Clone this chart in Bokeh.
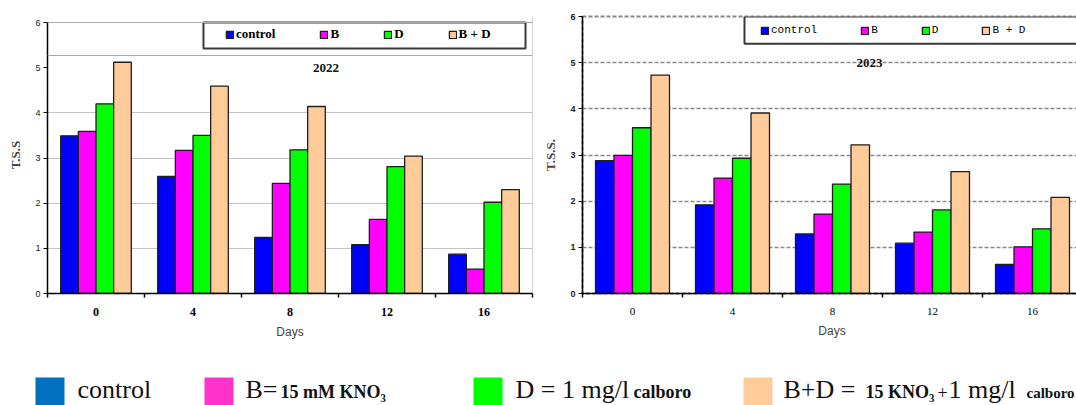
from bokeh.plotting import figure
from bokeh.models import (Range1d, FixedTicker, Span, BoxAnnotation, Label, Legend,
                          LegendItem, ColumnDataSource)
from bokeh.transform import dodge
from bokeh.layouts import column, row
from bokeh.embed import file_html
from bokeh.resources import INLINE
from bokeh.core.properties import value

# ---------------- data ----------------
days = ["0", "4", "8", "12", "16"]
series_names = ["control", "B", "D", "B + D"]
y_ticks = [0, 1, 2, 3, 4, 5, 6]

tss2022_control = [3.49, 2.59, 1.24, 1.08, 0.87]
tss2022_B = [3.59, 3.17, 2.44, 1.64, 0.54]
tss2022_D = [4.20, 3.50, 3.18, 2.81, 2.02]
tss2022_BD = [5.12, 4.59, 4.14, 3.04, 2.30]

tss2023_control = [2.88, 1.92, 1.29, 1.09, 0.63]
tss2023_B = [2.99, 2.50, 1.72, 1.33, 1.01]
tss2023_D = [3.59, 2.93, 2.37, 1.81, 1.40]
tss2023_BD = [4.73, 3.91, 3.22, 2.64, 2.08]

bar_colors = ["#0000FF", "#FF00FF", "#00FF00", "#FFCC99"]

key_colors = ["#0070C0", "#FF33CC", "#00FF00", "#FFCC99"]
# bottom key: text segments (text, size in px, style)
key_segments = [
    [("control", 26, "normal")],
    [("B=", 26, "normal"), ("15 mM KNO\u2083", 18, "bold")],
    [("D = 1 mg/l", 26, "normal"), ("calboro", 18, "bold")],
    [("B+D =", 26, "normal"), ("15 KNO\u2083", 18, "bold"), ("+", 18, "normal"),
     ("1 mg/l", 26, "normal"), ("calboro", 15, "bold")],
]

SERIF = "Liberation Serif"
SERIF_STACK = "Liberation Serif, Times New Roman, serif"
SANS = "Liberation Sans"
MONO = "Liberation Mono"

CHART_H = 345
FRAME_TOP = 16
FRAME_H = 277


def make_chart(year, vals, frame_w, x_end, y_end, border_left, border_right, bar_w,
               grid_ticks, grid_color, grid_dash, grid_width,
               tick_font, tick_size, tick_style, ytick_style, leg_font, leg_size, leg_style,
               leg_loc, leg_spacing, box, ylabel):
    p = figure(frame_width=frame_w, frame_height=FRAME_H,
               x_range=Range1d(-0.5, x_end), y_range=Range1d(0, y_end),
               toolbar_location=None, output_backend="svg",
               min_border_left=border_left, min_border_right=border_right,
               min_border_top=FRAME_TOP,
               min_border_bottom=CHART_H - FRAME_TOP - FRAME_H)
    p.background_fill_color = "white"
    p.border_fill_color = "white"
    p.xgrid.visible = False
    p.ygrid.ticker = FixedTicker(ticks=grid_ticks)
    p.ygrid.grid_line_color = grid_color
    p.ygrid.grid_line_dash = grid_dash
    p.ygrid.grid_line_width = grid_width

    src = ColumnDataSource(dict(idx=list(range(len(days))), control=vals[0], B=vals[1],
                                D=vals[2], BD=vals[3]))
    keys = ["control", "B", "D", "BD"]
    rends = []
    for k, (key, col) in enumerate(zip(keys, bar_colors)):
        r = p.vbar(x=dodge("idx", (k - 1.5) * bar_w, range=p.x_range), top=key, width=bar_w,
                   bottom=0, source=src, fill_color=col, line_color="#1e1e1e", line_width=1.3)
        rends.append(r)

    xa = p.xaxis[0]
    xa.ticker = FixedTicker(ticks=list(range(len(days))),
                            minor_ticks=[i - 0.5 for i in range(len(days) + 1)])
    xa.major_label_overrides = {i: d for i, d in enumerate(days)}
    xa.major_tick_out = 0
    xa.major_tick_in = 0
    xa.minor_tick_out = 4
    xa.minor_tick_in = 0
    xa.minor_tick_line_color = "black"
    xa.minor_tick_line_width = 1.5
    xa.axis_line_color = "black"
    xa.axis_line_width = 1.5
    xa.major_label_standoff = 10
    xa.major_label_text_font = tick_font
    xa.major_label_text_font_size = tick_size
    xa.major_label_text_font_style = tick_style
    xa.major_label_text_color = "black"
    xa.axis_label = "Days"
    xa.axis_label_text_font = SANS
    xa.axis_label_text_font_size = "12px"
    xa.axis_label_text_font_style = "normal"
    xa.axis_label_standoff = 6

    ya = p.yaxis[0]
    ya.ticker = FixedTicker(ticks=y_ticks)
    ya.bounds = (0, 6)
    ya.major_tick_out = 4
    ya.major_tick_in = 0
    ya.minor_tick_out = 0
    ya.minor_tick_in = 0
    ya.major_tick_line_color = "black"
    ya.axis_line_color = "black"
    ya.axis_line_width = 1.5
    ya.major_label_standoff = 3
    ya.major_label_text_font = SANS
    ya.major_label_text_font_size = "9px"
    ya.major_label_text_font_style = ytick_style
    ya.major_label_text_color = "#222222"
    ya.axis_label = ylabel
    ya.axis_label_text_font = SERIF
    ya.axis_label_text_font_size = "13px"
    ya.axis_label_text_font_style = "bold"
    ya.axis_label_standoff = 9

    p.add_layout(Label(x=2.37, y=5.0, text=year, text_font=SERIF, text_font_style="bold",
                       text_font_size="13px", text_align="center", text_baseline="middle",
                       text_color="#111111"))

    p.add_layout(BoxAnnotation(left=box[0], right=box[1], bottom=box[2], top=box[3],
                               fill_color="white", fill_alpha=1.0, line_color="#3a3a3a",
                               line_width=2, line_alpha=1.0))
    items = [LegendItem(label=n, renderers=[r]) for n, r in zip(series_names, rends)]
    leg = Legend(items=items, orientation="horizontal", location=leg_loc, padding=0, margin=0,
                 spacing=leg_spacing, glyph_width=9, glyph_height=9, label_standoff=2,
                 label_width=0, label_height=12, label_text_font=leg_font,
                 label_text_font_size=leg_size, label_text_font_style=leg_style,
                 label_text_color="black", border_line_alpha=0, background_fill_alpha=0)
    p.add_layout(leg)
    return p


# left chart: frame reaches a little above 6 so both frames share one top edge
p1 = make_chart("2022", [tss2022_control, tss2022_B, tss2022_D, tss2022_BD],
                frame_w=485, x_end=4.5, y_end=6.0 * 277 / 271, border_left=47, border_right=8,
                bar_w=0.182,
                grid_ticks=[1, 2, 3, 4], grid_color="#c4c4c4", grid_dash="solid", grid_width=1,
                tick_font=SERIF, tick_size="12px", tick_style="bold", ytick_style="normal",
                leg_font=SERIF, leg_size="13px", leg_style="bold",
                leg_loc=(178, 251), leg_spacing=44,
                box=(1.108, 4.428, 5.424, 6.0), ylabel="T.S.S")
p1.outline_line_color = None
for loc in (6.0, 5.27):
    p1.add_layout(Span(location=loc, dimension="width", line_color="#a8a8a8", line_width=1))
p1.add_layout(Span(location=4.5, dimension="height", line_color="#a8a8a8", line_width=1))

p2 = make_chart("2023", [tss2023_control, tss2023_B, tss2023_D, tss2023_BD],
                frame_w=499, x_end=4.49, y_end=6.0, border_left=37, border_right=0,
                bar_w=0.185,
                grid_ticks=[1, 2, 3, 4, 5], grid_color="#8a8a8a", grid_dash="4 2", grid_width=1.5,
                tick_font=SERIF, tick_size="11px", tick_style="normal", ytick_style="bold",
                leg_font=MONO, leg_size="11px", leg_style="normal",
                leg_loc=(178, 257), leg_spacing=43,
                box=(1.12, 4.46, 5.41, 6.0), ylabel="T.S.S.")
p2.outline_line_color = "#8a8a8a"
p2.outline_line_width = 2
p2.outline_line_dash = "4 2"

# ---------------- bottom key ----------------
KEY_H = 405 - CHART_H
p3 = figure(width=1076, height=KEY_H, x_range=Range1d(0, 1076), y_range=Range1d(KEY_H, 0),
            toolbar_location=None, output_backend="svg", min_border=0,
            x_axis_location=None, y_axis_location=None)
p3.grid.visible = False
p3.outline_line_color = None

key_left = [35, 204, 473, 743]
key_side = 29
key_top = 377 - CHART_H
p3.quad(left=key_left, right=[k + key_side for k in key_left], top=[key_top] * 4,
        bottom=[key_top + 32] * 4, fill_color=key_colors, line_color=None)

seg_x = [[77], [245, 280], [515, 633], [783, 865, 937, 948, 1026]]
baseline = 398 - CHART_H
tx, ty, tt, ts, tst = [], [], [], [], []
for segs, xs in zip(key_segments, seg_x):
    for (t, s, st), x in zip(segs, xs):
        tx.append(x)
        ty.append(baseline - 0.34 * s)
        tt.append(t)
        ts.append("%dpx" % s)
        tst.append(st)
tsrc = ColumnDataSource(dict(x=tx, y=ty, text=tt, size=ts, style=tst))
p3.text(x="x", y="y", text="text", source=tsrc, text_font=value(SERIF_STACK),
        text_font_size="size", text_font_style="style", text_baseline="middle",
        text_align="left", text_color="#111111")

layout = column(row(p1, p2, spacing=0), p3, spacing=0)
open("out.html", "w").write(file_html(layout, INLINE))
